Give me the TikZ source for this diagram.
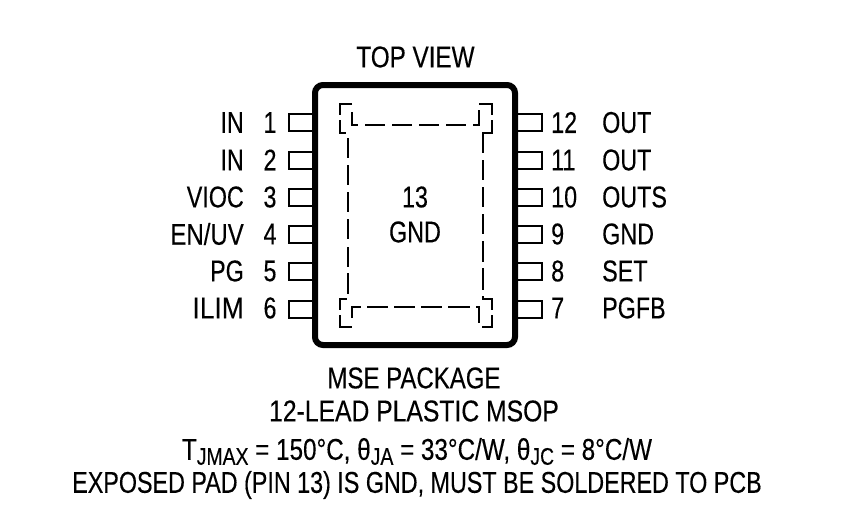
\documentclass[tikz,border=0pt]{standalone}
\usepackage{fontspec}
\setmainfont[FakeStretch=0.777,FakeBold=0.25]{Liberation Sans}
\newcommand{\subtxt}[1]{\raisebox{-5pt}{\fontsize{24}{26}\selectfont #1}}
\tikzset{
  lbl/.style={inner sep=0pt,font=\fontsize{30}{32}\selectfont},
  lname/.style={lbl,anchor=east},
  rname/.style={lbl,anchor=west},
  wide/.style={xscale=#1,transform shape},
  pad/.style={line width=2pt,line cap=butt,line join=miter},
  pin/.style={line width=2pt},
  body/.style={line width=6pt,rounded corners=8pt}
}
\begin{document}
\begin{tikzpicture}[x=1pt,y=-1pt]
\useasboundingbox (0,0) rectangle (847,530);
% pins
\foreach \y in {122.5,160,197,234,271,309}{
  \draw[pin] (315,\y-8.5) -- (288.5,\y-8.5) -- (288.5,\y+8.5) -- (315,\y+8.5);
  \draw[pin] (515,\y-8.5) -- (541.5,\y-8.5) -- (541.5,\y+8.5) -- (515,\y+8.5);
}
\draw[body,fill=white] (315,85) rectangle (515,345);
% exposed pad outline
\draw[pad] (352,104) -- (340,104) -- (340,115);
\draw[pad] (340,120) -- (340,132.5) -- (346,132.5);
\draw[pad] (352,112) -- (352,125) -- (358,125);
\foreach \a/\b in {365/385,392/412,419/439,446/466}{\draw[pad] (\a,125) -- (\b,125);}
\draw[pad] (473,125) -- (479,125) -- (479,110);
\draw[pad] (479,104) -- (491.5,104) -- (491.5,115);
\draw[pad] (491.5,120) -- (491.5,132.5) -- (483,132.5) -- (483,153);
\foreach \a/\b in {160/180,187/207,214/234,241/262,268/290}{\draw[pad] (483,\a) -- (483,\b);}
\draw[pad] (483,296) -- (483,299) -- (491.5,299) -- (491.5,310);
\draw[pad] (491.5,315) -- (491.5,327) -- (482,327);
\draw[pad] (476,307) -- (479,307) -- (479,323);
\foreach \a/\b in {367/388,394/415,421/442,448/470}{\draw[pad] (\a,307) -- (\b,307);}
\draw[pad] (352,318) -- (352,307) -- (360.5,307);
\draw[pad] (346.5,299) -- (340,299) -- (340,310);
\draw[pad] (340,315) -- (340,326.5) -- (352,326.5);
\foreach \a/\b in {138/158,165/185,192/212,219/239,247/267,273/294}{\draw[pad] (347.5,\a) -- (347.5,\b);}
% left labels
\node[lname] (n1) at (244,122.5) {IN};
\node[lname] (n2) at (244,160) {IN};
\node[lname] (n3) at (244,197) {VIOC};
\node[lname,wide=1.03] (n4) at (244,234) {EN/UV};
\node[lname] (n5) at (244,271) {PG};
\node[lname,wide=1.13] (n6) at (244,308) {ILIM};
\node[lbl] (p1) at (270,122.5) {1};
\node[lbl] (p2) at (270,160) {2};
\node[lbl] (p3) at (270,197) {3};
\node[lbl] (p4) at (270,234) {4};
\node[lbl] (p5) at (270,271) {5};
\node[lbl] (p6) at (270,308) {6};
% right labels
\node[rname] (p12) at (551,122.5) {12};
\node[rname] (p11) at (551,160) {11};
\node[rname] (p10) at (551,197) {10};
\node[rname] (p9) at (551,234) {9};
\node[rname] (p8) at (551,271) {8};
\node[rname] (p7) at (551,308) {7};
\node[rname] (n12) at (602,122.5) {OUT};
\node[rname] (n11) at (602,160) {OUT};
\node[rname] (n10) at (602,197) {OUTS};
\node[rname] (n9) at (602,234) {GND};
\node[rname] (n8) at (602,271) {SET};
\node[rname] (n7) at (602,308) {PGFB};
% centre and captions
\node[lbl,wide=1.04] (top) at (415.5,57) {TOP VIEW};
\node[lbl] (c13) at (415,197) {13};
\node[lbl] (cgnd) at (415,232) {GND};
\node[lbl,wide=1.03] (pkg) at (414,378) {MSE PACKAGE};
\node[lbl,wide=1.06] (lead) at (414,411) {12-LEAD PLASTIC MSOP};
\node[lbl,wide=1.04] (therm) at (417,451.5) {T\subtxt{JMAX} = 150°C, θ\subtxt{JA} = 33°C/W, θ\subtxt{JC} = 8°C/W};
\node[lbl] (pad) at (417,485) {EXPOSED PAD (PIN 13) IS GND, MUST BE SOLDERED TO PCB};
\end{tikzpicture}
\end{document}
